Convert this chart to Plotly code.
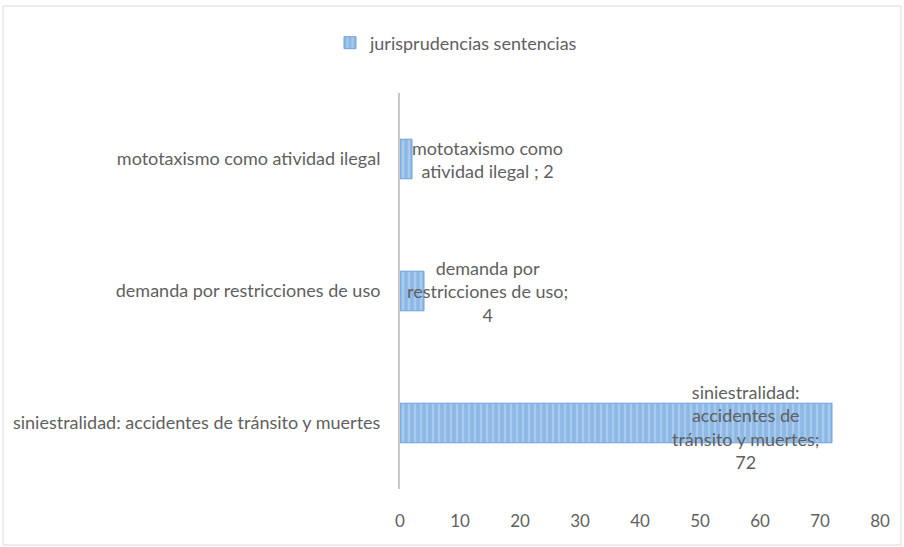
import plotly.graph_objects as go

categories = ["siniestralidad: accidentes de tránsito y muertes",
              "demanda por restricciones de uso",
              "mototaxismo como atividad ilegal"]
values = [72, 4, 2]
label_texts = ["siniestralidad:<br>accidentes de<br>tránsito y muertes;<br>72",
               "demanda por<br>restricciones de uso;<br>4",
               "mototaxismo como<br>atividad ilegal ; 2"]
label_x = [57.7, 14.5, 14.5]
series_name = "jurisprudencias sentencias"
x_ticks = [0, 10, 20, 30, 40, 50, 60, 70, 80]

FONT = "Lato, Liberation Sans, sans-serif"
GRAY = "#5f5f5f"
FS = 18

fig = go.Figure()
fig.add_trace(go.Bar(
    y=categories, x=values, orientation="h", name=series_name,
    width=0.3,
    marker=dict(color="#8db8e6", line=dict(color="#6fa3da", width=1),
                pattern=dict(shape="|", fgcolor="#c4dbf3", bgcolor="#8db8e6",
                             size=6, solidity=0.4, fillmode="overlay")),
    showlegend=True,
))

for c, t, lx, ys in zip(categories, label_texts, label_x, [-4, 0, 0]):
    fig.add_annotation(x=lx, y=c, xref="x", yref="y", text=t, showarrow=False,
                       xanchor="center", yanchor="middle", align="center", yshift=ys,
                       font=dict(family=FONT, size=FS, color=GRAY))

W, H = 904, 547
l, r, t, b = 400, 24, 93, 58
pw, ph = W - l - r, H - t - b
def px(xp):
    return (xp - l) / pw
def py(yp):
    return 1 - (yp - t) / ph

fig.add_shape(type="rect", xref="paper", yref="paper",
              x0=px(3), x1=px(901), y0=py(545), y1=py(6),
              line=dict(color="#d9d9d9", width=1), fillcolor="rgba(0,0,0,0)", layer="below")

fig.update_layout(
    width=W, height=H,
    margin=dict(l=l, r=r, t=t, b=b, autoexpand=False),
    paper_bgcolor="white", plot_bgcolor="white",
    font=dict(family=FONT, size=FS, color=GRAY),
    legend=dict(orientation="h", x=(372 - 42) / W, xref="container", xanchor="left",
                y=1 - 43 / H, yref="container", yanchor="middle",
                font=dict(family=FONT, size=FS, color=GRAY),
                bgcolor="rgba(0,0,0,0)"),
    xaxis=dict(range=[0, 80], tickvals=x_ticks, showgrid=False, zeroline=False,
               showline=False, ticks="", ticklabelstandoff=20,
               tickfont=dict(family=FONT, size=17, color=GRAY)),
    yaxis=dict(showgrid=False, zeroline=False, showline=True, linecolor="#c8c8c8",
               linewidth=2, ticks="", ticklabelstandoff=14,
               tickfont=dict(family=FONT, size=FS, color=GRAY)),
)
fig.write_html("out.html", config={"displayModeBar": False},
               post_script="document.body.style.margin='0';")
